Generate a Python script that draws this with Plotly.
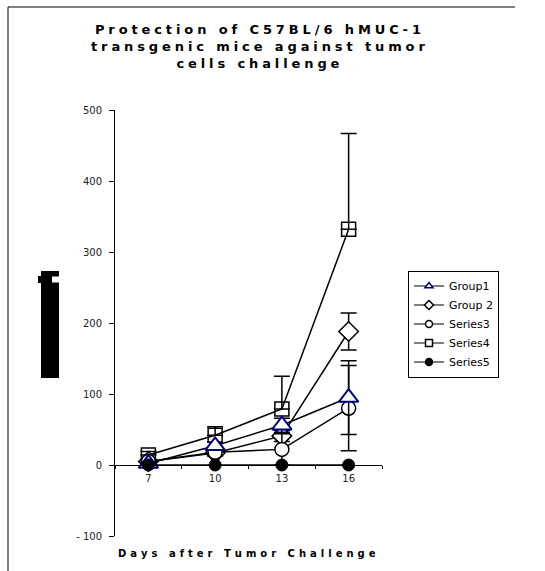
import plotly.graph_objects as go

# ---- data -------------------------------------------------------------
days = ["7", "10", "13", "16"]

group1 = [2, 27, 56, 95]
group1_err = [2, 5, 10, 52]

group2 = [5, 17, 41, 188]
group2_err = [2, 4, 8, 26]

series3 = [5, 18, 22, 80]
series3_err = [2, 5, 22, 60]

series4 = [14, 42, 79, 332]
series4_err = [5, 12, 46, 135]

series5 = [0, 0, 0, 0]

y_ticks = [-100, 0, 100, 200, 300, 400, 500]
y_tick_text = ["- 100", "0", "100", "200", "300", "400", "500"]

title_lines = ["Protection of C57BL/6 hMUC-1",
               "transgenic mice against tumor",
               "cells challenge"]
x_title = "Days after Tumor Challenge"

# ---- layout geometry (pixels) ----------------------------------------
W, H = 545, 571
L, R, T, B = 115, 163, 110, 35
PW, PH = W - L - R, H - T - B


def px(x):
    return (x - L) / PW


def py(y):
    return (H - B - y) / PH


def spaced(text, sep):
    out = []
    for word in text.split(" "):
        out.append(sep.join(word))
    return (sep + " " + sep).join(out)


FONT = "DejaVu Sans"

fig = go.Figure()


def err(vals, minus=None):
    d = dict(type="data", array=vals, color="black", thickness=1.5, width=8,
             visible=True)
    if minus is not None:
        d["symmetric"] = False
        d["arrayminus"] = minus
    return d


line = dict(color="black", width=1.5)

fig.add_trace(go.Scatter(
    x=days, y=series4, mode="lines+markers", line=line,
    marker=dict(symbol="square", size=14, color="rgba(0,0,0,0)",
                line=dict(color="black", width=1.5)),
    error_y=err(series4_err, [0, 0, 0, 0]), showlegend=False))

fig.add_trace(go.Scatter(
    x=days, y=group2, mode="lines+markers", line=line,
    marker=dict(symbol="diamond", size=15, color="white",
                line=dict(color="black", width=1.5)),
    error_y=err(group2_err), showlegend=False))

fig.add_trace(go.Scatter(
    x=days, y=series3, mode="lines+markers", line=line,
    marker=dict(symbol="circle", size=14, color="white",
                line=dict(color="black", width=1.5)),
    error_y=err(series3_err), showlegend=False))

fig.add_trace(go.Scatter(
    x=days, y=group1, mode="lines+markers", line=line,
    marker=dict(symbol="triangle-up", size=17, color="white",
                line=dict(color="#000080", width=2)),
    error_y=err(group1_err), showlegend=False))

fig.add_trace(go.Scatter(
    x=days, y=series5, mode="lines+markers", line=line,
    marker=dict(symbol="circle", size=12, color="black",
                line=dict(color="black", width=1)),
    showlegend=False))

# legend entries with small symbols
legend_items = [
    ("Group1", "triangle-up", "white", "#000080"),
    ("Group 2", "diamond", "white", "black"),
    ("Series3", "circle", "white", "black"),
    ("Series4", "square", "white", "black"),
    ("Series5", "circle", "black", "black"),
]
for name, sym, fill, edge in legend_items:
    fig.add_trace(go.Scatter(
        x=[None], y=[None], mode="lines+markers", name=name,
        line=dict(color="black", width=1.2),
        marker=dict(symbol=sym, size=7, color=fill,
                    line=dict(color=edge, width=1.5)),
        showlegend=True))

fig.update_layout(
    width=W, height=H,
    margin=dict(l=L, r=R, t=T, b=B, pad=0),
    paper_bgcolor="white", plot_bgcolor="white",
    font=dict(family=FONT, color="black"),
    showlegend=True,
    legend=dict(x=px(408), y=py(324), xanchor="left", yanchor="middle",
                bgcolor="white", bordercolor="black", borderwidth=1,
                font=dict(family=FONT, size=11, color="black"),
                tracegroupgap=0),
    xaxis=dict(type="category", categoryorder="array", categoryarray=days,
               range=[-0.5, 3.5], anchor="free", position=100 / 600,
               showline=True, linecolor="black", linewidth=1,
               ticks="outside", tickson="boundaries", ticklen=3,
               tickcolor="black", showgrid=False, zeroline=False,
               ticklabelstandoff=4,
               tickfont=dict(family=FONT, size=10, color="#222")),
    yaxis=dict(range=[-100, 500], tickvals=y_ticks, ticktext=y_tick_text,
               showline=True, linecolor="black", linewidth=1,
               ticks="outside", ticklen=5, tickcolor="black",
               ticklabelstandoff=5,
               showgrid=False, zeroline=False,
               tickfont=dict(family=FONT, size=10, color="#222")),
)

# chart title
fig.add_annotation(
    x=px(258), y=py(47), xref="paper", yref="paper",
    xanchor="center", yanchor="middle", showarrow=False,
    text="<br>".join(spaced(s, "\u2009\u200a") for s in title_lines),
    font=dict(family=FONT, size=13, color="black", weight="bold"),
    align="center")

# x axis title
fig.add_annotation(
    x=px(247), y=py(553), xref="paper", yref="paper",
    xanchor="center", yanchor="middle", showarrow=False,
    text=spaced(x_title, "\u2009\u2009"),
    font=dict(family=FONT, size=10, color="black", weight="bold"))

# y axis title block
shapes = [
    dict(type="rect", x0=px(41), x1=px(59), y0=py(271), y1=py(378),
         fillcolor="black", line=dict(width=0)),
    dict(type="rect", x0=px(38), x1=px(41), y0=py(276), y1=py(283),
         fillcolor="black", line=dict(width=0)),
    dict(type="rect", x0=px(52), x1=px(59), y0=py(276.5), y1=py(282.5),
         fillcolor="white", line=dict(width=0)),
    # outer frame
    dict(type="line", x0=px(8), x1=px(8), y0=py(7), y1=py(571),
         line=dict(color="black", width=1)),
    dict(type="line", x0=px(8), x1=px(515), y0=py(7), y1=py(7),
         line=dict(color="black", width=1)),
]
for s in shapes:
    s.update(xref="paper", yref="paper")
fig.update_layout(shapes=shapes)

fig.write_html("out.html")
